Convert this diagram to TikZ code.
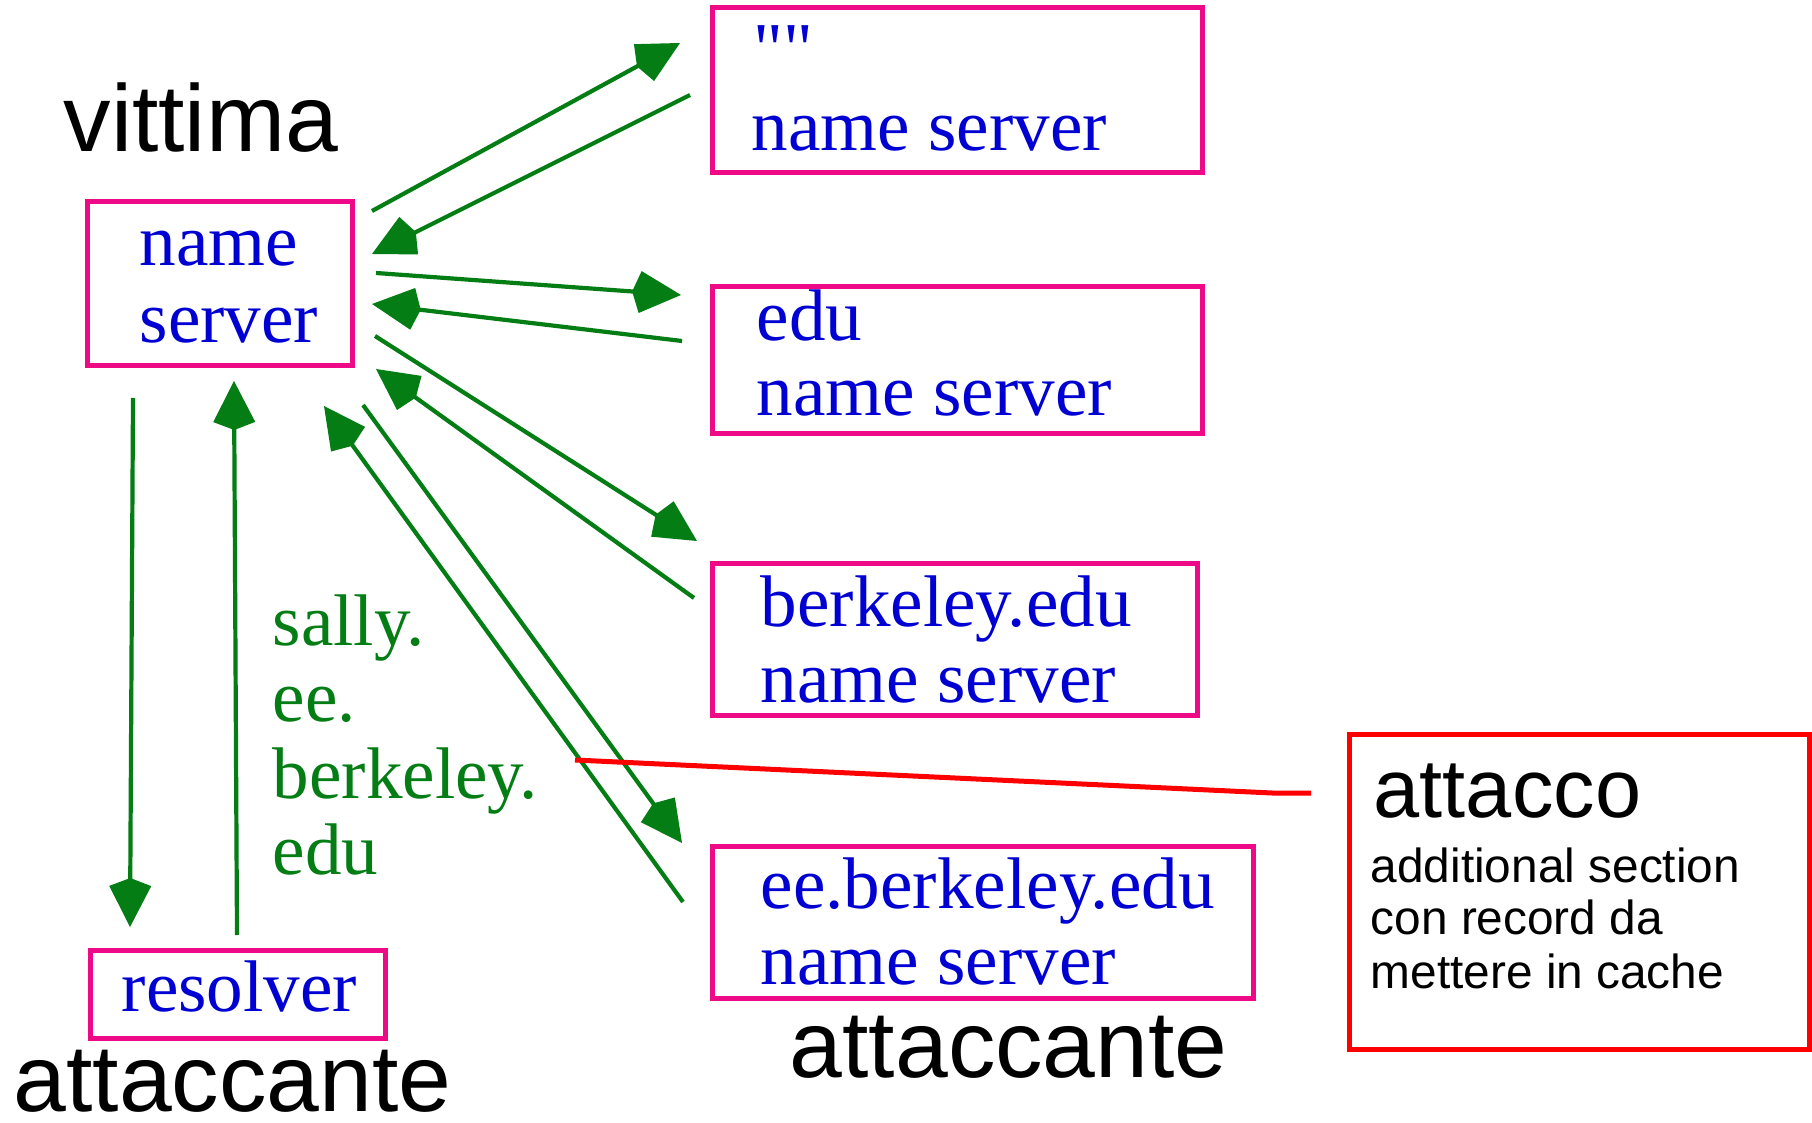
\documentclass[tikz,border=0pt]{standalone}
\usepackage{fontspec}
\setmainfont{Liberation Serif}
\newfontfamily\rawserif{Liberation Serif}
\newfontfamily\arialfont{Liberation Sans}
\usetikzlibrary{arrows.meta}
\definecolor{nsgreen}{RGB}{3,125,20}
\definecolor{boxpink}{RGB}{238,10,135}
\definecolor{nsblue}{RGB}{0,0,210}
\begin{document}
\begin{tikzpicture}[x=0.1mm,y=-0.1mm,
  box/.style={draw=boxpink, line width=0.5mm, inner sep=0pt, rectangle},
  redbox/.style={draw=red, line width=0.5mm, inner sep=0pt, rectangle},
  ntxt/.style={anchor=base west, inner sep=0pt, text=nsblue, font=\fontsize{20.8}{24}\selectfont},
  gtxt/.style={anchor=base west, inner sep=0pt, text=nsgreen, font=\fontsize{20.8}{24}\selectfont},
  bigtxt/.style={anchor=base west, inner sep=0pt, font=\arialfont\fontsize{27}{30}\selectfont},
  midtxt/.style={anchor=base west, inner sep=0pt, font=\arialfont\fontsize{23.6}{26}\selectfont},
  smalltxt/.style={anchor=base west, inner sep=0pt, font=\arialfont\fontsize{13.6}{16}\selectfont},
  arr/.style={draw=nsgreen, line width=0.42mm, -{Kite[length=4.9mm,width=4.2mm,inset=0.8mm]}},
  redline/.style={draw=red, line width=0.5mm}]
\useasboundingbox (0,0) rectangle (1812,1123);

% boxes
\node[box, minimum width=26.5mm, minimum height=16.4mm] (ns) at (219.5,284) {};
\node[box, minimum width=49mm, minimum height=16.5mm] (root) at (957,90.5) {};
\node[box, minimum width=49mm, minimum height=14.7mm] (edu) at (957,360.5) {};
\node[box, minimum width=48.5mm, minimum height=15.2mm] (berk) at (954.5,640) {};
\node[box, minimum width=54.1mm, minimum height=15.2mm] (ee) at (982.5,922) {};
\node[box, minimum width=29.5mm, minimum height=8.8mm] (res) at (237.5,994) {};
\node[redbox, minimum width=46mm, minimum height=31.5mm] (att) at (1579,891.5) {};

% texts
\node[bigtxt] (vittima) at (63,152) {vittima};
\node[ntxt] (nsA) at (139,266) {name};
\node[ntxt] (nsB) at (139,343) {server};
\node[ntxt] (rootA) at (753,74) {\rawserif ""};
\node[ntxt] (rootB) at (751,151) {name server};
\node[ntxt] (eduA) at (756,341) {edu};
\node[ntxt] (eduB) at (756,416) {name server};
\node[ntxt] (berkA) at (760,627) {berkeley.edu};
\node[ntxt] (berkB) at (760,703) {name server};
\node[ntxt] (eeA) at (760,908) {ee.berkeley.edu};
\node[ntxt] (eeB) at (760,984) {name server};
\node[ntxt] (resT) at (121,1011) {resolver};
\node[gtxt] (g1) at (272,646) {sally.};
\node[gtxt] (g2) at (272,721) {ee.};
\node[gtxt] (g3) at (272,798) {berkeley.};
\node[gtxt] (g4) at (272,874) {edu};
\node[bigtxt] (attL) at (13,1111) {attaccante};
\node[bigtxt] (attR) at (789,1077) {attaccante};
\node[midtxt] (attacco) at (1373,817) {attacco};
\node[smalltxt] (s1) at (1370,882) {additional section};
\node[smalltxt] (s2) at (1370,934) {con record da};
\node[smalltxt] (s3) at (1370,988) {mettere in cache};

% arrow end points
\coordinate (a1s) at (372,211);  \coordinate (a1e) at (680,43);
\coordinate (a2s) at (690,95);   \coordinate (a2e) at (372,254);
\coordinate (a3s) at (376,273);  \coordinate (a3e) at (681,295);
\coordinate (a4s) at (682,341);  \coordinate (a4e) at (372,304);
\coordinate (a5s) at (375,336);  \coordinate (a5e) at (697,541);
\coordinate (a6s) at (694,598);  \coordinate (a6e) at (376,369);
\coordinate (a7s) at (363,405);  \coordinate (a7e) at (682,843);
\coordinate (a8s) at (683,902);  \coordinate (a8e) at (324,406);
\coordinate (a9s) at (133,398);  \coordinate (a9e) at (130,927);
\coordinate (a10s) at (237,935); \coordinate (a10e) at (234,381);

\draw[arr] (a1s) -- (a1e);
\draw[arr] (a2s) -- (a2e);
\draw[arr] (a3s) -- (a3e);
\draw[arr] (a4s) -- (a4e);
\draw[arr] (a5s) -- (a5e);
\draw[arr] (a6s) -- (a6e);
\draw[arr] (a7s) -- (a7e);
\draw[arr] (a8s) -- (a8e);
\draw[arr] (a9s) -- (a9e);
\draw[arr] (a10s) -- (a10e);

% red pointer line
\coordinate (r0) at (575,760);
\coordinate (r1) at (1272,793);
\coordinate (r2) at (1311,793);
\draw[redline] (r0) -- (r1) -- (r2);
\end{tikzpicture}
\end{document}
